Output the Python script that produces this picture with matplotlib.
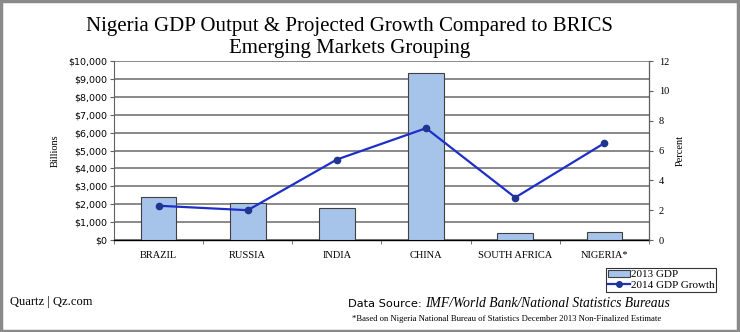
import matplotlib
matplotlib.use("Agg")
import matplotlib.pyplot as plt
from matplotlib.patches import Rectangle, Patch
from matplotlib.lines import Line2D
from matplotlib.ticker import FuncFormatter, MultipleLocator
import numpy as np

# data
countries = ["BRAZIL", "RUSSIA", "INDIA", "CHINA", "SOUTH AFRICA", "NIGERIA*"]
gdp_2013 = [2430, 2050, 1800, 9340, 400, 460]        # billions USD
growth_2014 = [2.3, 2.0, 5.4, 7.5, 2.85, 6.5]         # percent

SERIF = "Liberation Serif"
SANS = "DejaVu Sans"
BAR_COLOR = "#A6C4EA"
LINE_COLOR = "#1E2FC8"
MARKER_COLOR = "#1F3590"

fig = plt.figure(figsize=(7.4, 3.32), dpi=100)
fig.patch.set_facecolor("white")

# gray frame round the whole picture
fig.add_artist(Rectangle((0.002, 0.004), 0.995, 0.992, transform=fig.transFigure,
                         fill=False, edgecolor="#8a8a8a", linewidth=2.5))

ax = fig.add_axes([0.154, 0.277, 0.723, 0.539])
x = np.arange(len(countries))

ax.bar(x, gdp_2013, width=0.4, color=BAR_COLOR, edgecolor="#404040",
       linewidth=0.8, zorder=3)

ax.set_xlim(-0.5, len(countries) - 0.5)
ax.set_ylim(0, 10000)
ax.yaxis.set_major_locator(MultipleLocator(1000))
ax.yaxis.set_major_formatter(FuncFormatter(lambda v, p: f"${v:,.0f}"))
ax.grid(axis="y", color="#808080", linewidth=1.3, zorder=0)
ax.set_axisbelow(True)

ax.set_xticks(x)
ax.set_xticklabels(countries, fontfamily=SERIF, fontsize=7.5)
ax.tick_params(axis="x", which="major", length=0, pad=8)
ax.set_xticks(np.arange(-0.5, len(countries)), minor=True)
ax.tick_params(axis="x", which="minor", length=3, direction="out", color="#606060")
ax.tick_params(axis="y", length=3, direction="out", labelsize=6.8, color="#606060", pad=2)
for lbl in ax.get_yticklabels():
    lbl.set_fontfamily(SANS)

ax.spines["top"].set_visible(False)
ax.spines["left"].set_color("#606060")
ax.spines["bottom"].set_color("black")
ax.spines["bottom"].set_linewidth(1.0)
ax.set_ylabel("Billions", fontfamily=SERIF, fontsize=7.5, labelpad=6)

ax2 = ax.twinx()
ax2.plot(x, growth_2014, color=LINE_COLOR, linewidth=1.6, marker="o",
         markersize=4.5, markerfacecolor=MARKER_COLOR, markeredgecolor=MARKER_COLOR,
         zorder=4)
ax2.set_ylim(0, 12)
ax2.yaxis.set_major_locator(MultipleLocator(2))
ax2.tick_params(axis="y", length=3, direction="out", labelsize=7.5, color="#606060", pad=4)
for lbl in ax2.get_yticklabels():
    lbl.set_fontfamily(SERIF)
ax2.spines["top"].set_visible(False)
ax2.spines["left"].set_visible(False)
ax2.spines["bottom"].set_visible(False)
ax2.spines["right"].set_color("#606060")
ax2.set_ylabel("Percent", fontfamily=SERIF, fontsize=7.5, labelpad=5)

# title
fig.text(0.472, 0.919, "Nigeria GDP Output & Projected Growth Compared to BRICS",
         ha="center", va="center", fontfamily=SERIF, fontsize=15)
fig.text(0.472, 0.853, "Emerging Markets Grouping",
         ha="center", va="center", fontfamily=SERIF, fontsize=15)

# legend
handles = [Patch(facecolor=BAR_COLOR, edgecolor="#404040", linewidth=0.8),
           Line2D([0], [0], color=LINE_COLOR, linewidth=1.6, marker="o", markersize=4,
                  markerfacecolor=MARKER_COLOR, markeredgecolor=MARKER_COLOR)]
leg = fig.legend(handles, ["2013 GDP", "2014 GDP Growth"],
                 loc="upper left", bbox_to_anchor=(0.819, 0.193),
                 prop={"family": SERIF, "size": 8}, frameon=True, fancybox=False,
                 borderpad=0.15, labelspacing=0.1, handlelength=2.0, handletextpad=0.1,
                 borderaxespad=0)
leg.get_frame().set_edgecolor("black")
leg.get_frame().set_linewidth(0.8)

# source line: sans label, then italic serif text right after it
src = fig.text(0.47, 0.075, "Data Source:", ha="left", va="baseline",
               fontfamily=SANS, fontsize=8.2)
fig.canvas.draw()
bb = src.get_window_extent()
fig.text((bb.x1 + 3) / fig.bbox.width, 0.075, "IMF/World Bank/National Statistics Bureaus",
         ha="left", va="baseline", fontfamily=SERIF, fontstyle="italic", fontsize=9.8)

fig.text(0.475, 0.034, "*Based on Nigeria National Bureau of Statistics December 2013 Non-Finalized Estimate",
         ha="left", va="baseline", fontfamily=SERIF, fontsize=6.2)
fig.text(0.013, 0.08, "Quartz | Qz.com", ha="left", va="baseline",
         fontfamily=SERIF, fontsize=9)

fig.savefig("out.png", dpi=100)
